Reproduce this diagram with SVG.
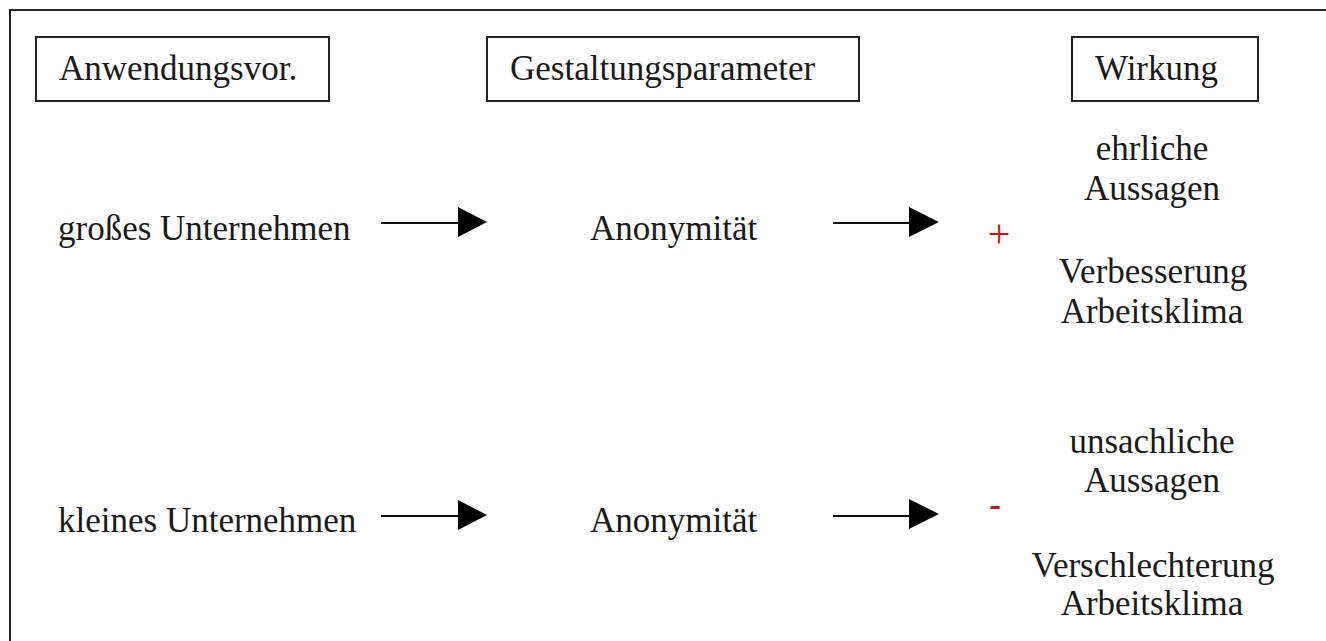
<svg xmlns="http://www.w3.org/2000/svg" width="1326" height="641" viewBox="0 0 1326 641">
<style>
  text { font-family: "Liberation Serif", "Times New Roman", serif; font-size: 35px; fill: #1a1a1a; }
  .c { text-anchor: middle; }
  .box { fill: #ffffff; stroke: #222222; stroke-width: 2; }
  .frame { fill: none; stroke: #222222; stroke-width: 2; }
  .conn line { stroke: #111111; stroke-width: 2; }
  .conn polygon { fill: #000000; }
  .sign { fill: #d01010; }
</style>
<rect x="0" y="0" width="1326" height="641" fill="#ffffff"/>
<path class="frame" d="M10,641 V10 H1326"/>

<g id="header-anwendung">
  <rect class="box" x="36" y="37" width="293" height="64"/>
  <text x="59" y="80">Anwendungsvor.</text>
</g>
<g id="header-gestaltung">
  <rect class="box" x="487" y="37" width="372" height="64"/>
  <text x="510" y="80">Gestaltungsparameter</text>
</g>
<g id="header-wirkung">
  <rect class="box" x="1072" y="37" width="186" height="64"/>
  <text x="1095" y="80">Wirkung</text>
</g>

<g id="node-gross">
  <text x="58" y="240">großes Unternehmen</text>
</g>
<g id="node-anon1">
  <text x="590" y="240">Anonymität</text>
</g>
<g id="node-plus">
  <text class="sign" x="999" y="247" font-size="40" text-anchor="middle" style="font-size:40px">+</text>
</g>
<g id="node-wirkung1">
  <text class="c" x="1152" y="160">ehrliche</text>
  <text class="c" x="1152" y="200">Aussagen</text>
  <text class="c" x="1153" y="283">Verbesserung</text>
  <text class="c" x="1152" y="323">Arbeitsklima</text>
</g>

<g id="node-klein">
  <text x="58" y="532">kleines Unternehmen</text>
</g>
<g id="node-anon2">
  <text x="590" y="532">Anonymität</text>
</g>
<g id="node-minus">
  <text class="sign" x="995" y="516" text-anchor="middle" font-weight="bold">-</text>
</g>
<g id="node-wirkung2">
  <text class="c" x="1152" y="453">unsachliche</text>
  <text class="c" x="1152" y="492">Aussagen</text>
  <text class="c" x="1153" y="577">Verschlechterung</text>
  <text class="c" x="1152" y="615">Arbeitsklima</text>
</g>

<g id="connectors" class="conn">
  <line x1="381" y1="223" x2="460" y2="223"/>
  <polygon points="458,207 487,222 458,237"/>
  <line x1="833" y1="223" x2="911" y2="223"/>
  <polygon points="909,207 939,222 909,237"/>
  <line x1="381" y1="516" x2="460" y2="516"/>
  <polygon points="458,500 487,515 458,530"/>
  <line x1="833" y1="516" x2="911" y2="516"/>
  <polygon points="909,499 939,514 909,529"/>
</g>
</svg>
